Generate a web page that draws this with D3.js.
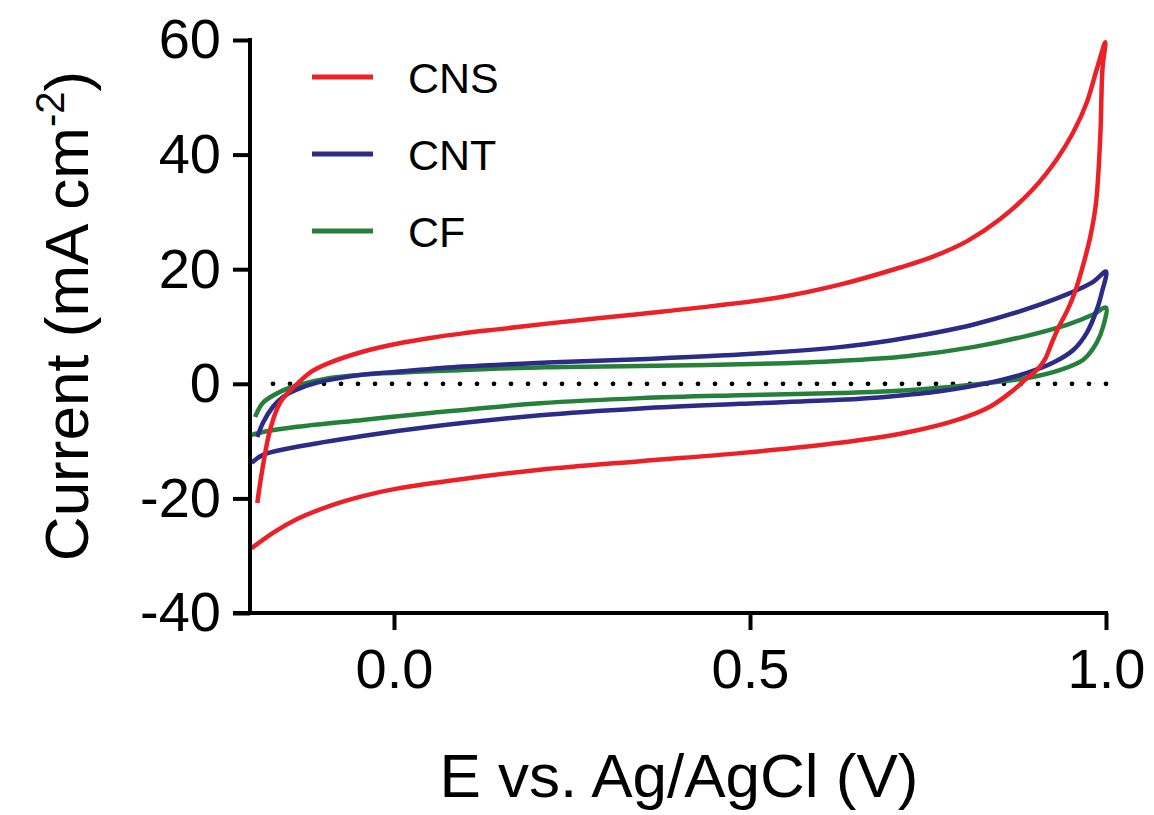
<!DOCTYPE html>
<html>
<head>
<meta charset="utf-8">
<script src="https://cdn.jsdelivr.net/npm/d3@7"></script>
<style>
  body { margin: 0; background: #fff; }
  svg { display: block; font-family: "Liberation Sans", Arial, sans-serif; }
</style>
</head>
<body>
<div id="chart"></div>
<script>
// CV curves: [E (V), current (mA cm-2)]
// forward (anodic) sweep then reverse sweep, per electrode
const seriesNames = ['CNS', 'CNT', 'CF'];
const seriesColors = ['#ec2027', '#2c2b88', '#27803a'];

const cnsForward = [
  [-0.192, -20.8], [-0.185, -15.0], [-0.174, -8.0], [-0.160, -3.3], [-0.146, -1.2],
  [-0.136, 0.0], [-0.115, 2.2], [-0.090, 3.7], [-0.044, 5.6], [0.004, 7.0],
  [0.051, 8.0], [0.097, 8.8], [0.145, 9.5], [0.215, 10.5], [0.346, 12.2],
  [0.450, 13.6], [0.542, 15.1], [0.626, 17.3], [0.711, 20.3], [0.757, 22.2],
  [0.805, 24.9], [0.851, 28.7], [0.897, 33.9], [0.931, 39.2], [0.954, 43.9],
  [0.973, 49.1], [0.987, 54.9], [0.999, 59.6]
];
const cnsReverse = [
  [0.995, 54.9], [0.992, 43.2], [0.986, 31.6], [0.978, 25.7], [0.966, 19.9],
  [0.956, 15.9], [0.946, 12.9], [0.934, 10.0], [0.924, 7.2], [0.914, 4.2],
  [0.903, 2.4], [0.889, 1.0], [0.869, -1.2], [0.837, -4.0], [0.791, -6.3],
  [0.720, -8.5], [0.626, -10.3], [0.486, -12.1], [0.346, -13.5], [0.205, -15.0],
  [0.097, -16.6], [0.004, -18.3], [-0.044, -19.6], [-0.090, -21.3], [-0.136, -23.6],
  [-0.170, -26.0], [-0.200, -28.7]
];
const cntForward = [
  [-0.192, -9.3], [-0.184, -6.8], [-0.170, -4.0], [-0.156, -2.3], [-0.136, -1.0],
  [-0.108, 0.2], [-0.044, 1.6], [0.004, 2.1], [0.097, 3.0], [0.215, 3.7],
  [0.346, 4.3], [0.486, 5.1], [0.626, 6.4], [0.700, 7.6], [0.760, 8.9],
  [0.813, 10.3], [0.883, 12.8], [0.945, 15.6], [0.982, 17.8], [1.000, 19.6]
];
const cntReverse = [
  [0.994, 15.9], [0.987, 12.9], [0.973, 8.9], [0.954, 5.9], [0.926, 3.7],
  [0.889, 1.9], [0.837, 0.2], [0.767, -1.3], [0.697, -2.2], [0.626, -2.8],
  [0.486, -3.5], [0.346, -4.3], [0.205, -5.5], [0.051, -7.5], [-0.044, -9.1],
  [-0.136, -11.0], [-0.184, -12.4], [-0.200, -13.8]
];
const cfForward = [
  [-0.195, -5.8], [-0.184, -3.3], [-0.160, -1.4], [-0.136, -0.3], [-0.090, 1.0],
  [-0.044, 1.6], [0.097, 2.4], [0.215, 2.9], [0.346, 3.1], [0.486, 3.4],
  [0.626, 4.0], [0.720, 4.8], [0.813, 6.4], [0.883, 8.2], [0.945, 10.3],
  [0.982, 12.1], [1.000, 13.3]
];
const cfReverse = [
  [0.996, 10.0], [0.987, 7.2], [0.968, 4.2], [0.935, 2.4], [0.889, 1.0],
  [0.837, 0.2], [0.767, -0.7], [0.697, -1.3], [0.626, -1.6], [0.486, -2.0],
  [0.346, -2.5], [0.205, -3.4], [0.051, -5.1], [-0.044, -6.3], [-0.136, -7.5],
  [-0.184, -8.4], [-0.200, -8.9]
];

const xTicks = [0.0, 0.5, 1.0];
const yTicks = [-40, -20, 0, 20, 40, 60];

const curves = [
  cnsForward.concat(cnsReverse),
  cntForward.concat(cntReverse),
  cfForward.concat(cfReverse)
];

const width = 1154, height = 815;
const svg = d3.select('#chart').append('svg')
  .attr('width', width)
  .attr('height', height);

// plot area
const x = d3.scaleLinear().domain([-0.2, 1.0]).range([251.6, 1106]);
const y = d3.scaleLinear().domain([-40, 60]).range([613, 40]);

// dotted zero line (behind curves)
svg.append('line')
  .attr('x1', x(1.0)).attr('x2', x(-0.18))
  .attr('y1', y(0)).attr('y2', y(0))
  .attr('stroke', '#000')
  .attr('stroke-width', 4.8)
  .attr('stroke-linecap', 'round')
  .attr('stroke-dasharray', '0 17');

const line = d3.line()
  .x(d => x(d[0]))
  .y(d => y(d[1]))
  .curve(d3.curveCatmullRom.alpha(0.5));

// draw green first, red on top
[2, 1, 0].forEach(i => {
  svg.append('path')
    .datum(curves[i])
    .attr('d', line)
    .attr('fill', 'none')
    .attr('stroke', seriesColors[i])
    .attr('stroke-width', 4.5)
    .attr('stroke-linejoin', 'round');
});

// y axis
const yAxis = svg.append('g')
  .attr('transform', `translate(${x(-0.2) - 1.6},0)`)
  .call(d3.axisLeft(y).tickValues(yTicks).tickSize(17).tickSizeOuter(0).tickPadding(12)
    .tickFormat(d3.format('d')));
yAxis.select('.domain').attr('stroke-width', 4).attr('d', `M0,${y(60) - 2}V${y(-40)}`);
yAxis.selectAll('.tick line').attr('stroke-width', 4);
yAxis.selectAll('.tick text')
  .attr('font-size', 56)
  .attr('fill', '#000')
  .attr('font-family', '"Liberation Sans", Arial, sans-serif')
  .text(d => d < 0 ? '-' + Math.abs(d) : d);

// x axis
const xAxis = svg.append('g')
  .attr('transform', `translate(0,${y(-40)})`)
  .call(d3.axisBottom(x).tickValues(xTicks).tickSize(17).tickSizeOuter(0).tickPadding(18)
    .tickFormat(d3.format('.1f')));
xAxis.select('.domain').attr('stroke-width', 4).attr('d', `M233,0H${x(1.0) + 2}`);
xAxis.selectAll('.tick line').attr('stroke-width', 4);
xAxis.selectAll('.tick text')
  .attr('font-size', 56)
  .attr('fill', '#000')
  .attr('font-family', '"Liberation Sans", Arial, sans-serif');

// axis titles
svg.append('text')
  .attr('x', 679)
  .attr('y', 797)
  .attr('text-anchor', 'middle')
  .attr('font-size', 62)
  .text('E vs. Ag/AgCl (V)');

const yTitle = svg.append('text')
  .attr('transform', 'translate(88,316) rotate(-90)')
  .attr('text-anchor', 'middle')
  .attr('font-size', 62);
yTitle.append('tspan').text('Current (mA cm');
yTitle.append('tspan').attr('font-size', 40).attr('dy', -24).text('-2');
yTitle.append('tspan').attr('dy', 24).text(')');

// legend
const legend = svg.append('g');
seriesNames.forEach((name, i) => {
  const ly = 77 + i * 77;
  legend.append('line')
    .attr('x1', 312).attr('x2', 373)
    .attr('y1', ly).attr('y2', ly)
    .attr('stroke', seriesColors[i])
    .attr('stroke-width', 5);
  legend.append('text')
    .attr('x', 408)
    .attr('y', ly + 16)
    .attr('font-size', 43)
    .text(name);
});
</script>
</body>
</html>
